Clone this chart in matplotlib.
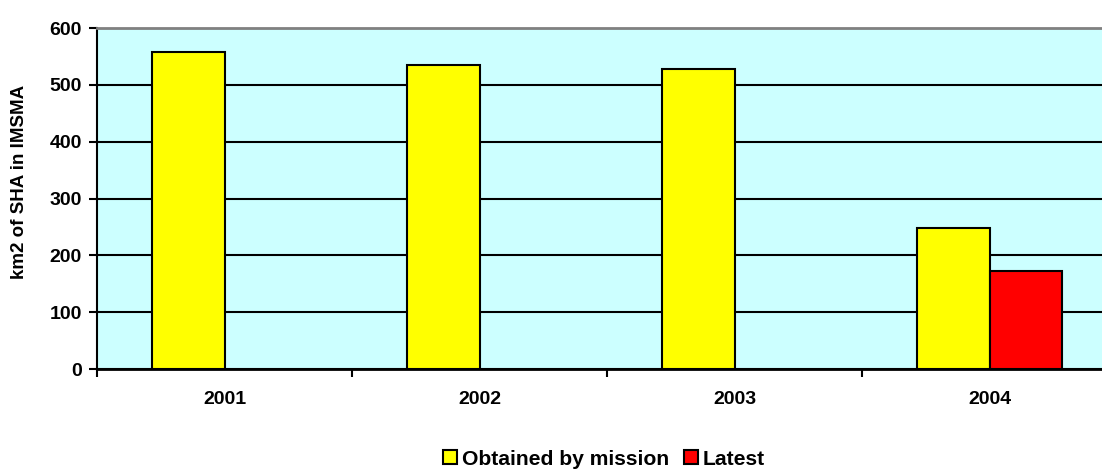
import numpy as np
import matplotlib.pyplot as plt

plt.rcParams['font.family'] = ['Liberation Sans', 'DejaVu Sans']
plt.rcParams['font.weight'] = 'bold'

years = ['2001', '2002', '2003', '2004']
obtained = [558, 535, 528, 248]
latest = [0, 0, 0, 173]

fig = plt.figure(figsize=(11.02, 4.69), dpi=100)
# plot area runs past the right edge of the picture, like the original
ax = fig.add_axes([97 / 1102, 1 - 369 / 469, 1020 / 1102, 341 / 469])
ax.set_facecolor('#CCFFFF')

x = np.arange(len(years))
w = 0.286
ax.bar(x - w / 2, obtained, w, color='#FFFF00', edgecolor='black', linewidth=1.5,
       label='Obtained by mission', zorder=3)
lat = np.array(latest, dtype=float)
lat[lat == 0] = np.nan
ax.bar(x + w / 2, lat, w, color='#FF0000', edgecolor='black', linewidth=1.5,
       label='Latest', zorder=3)

ax.set_xlim(-0.5, len(years) - 0.5)
ax.set_ylim(0, 600)
ax.set_yticks(range(0, 601, 100))
ax.yaxis.grid(True, color='black', linewidth=1.5, zorder=1)
ax.set_axisbelow(True)

ax.set_xticks(x)
ax.set_xticklabels(years, fontsize=14, fontweight='bold')
ax.set_xticks(np.arange(-0.5, len(years), 1), minor=True)
ax.tick_params(axis='x', which='major', length=0, pad=16)
ax.tick_params(axis='x', which='minor', length=6, width=1.5, direction='out')
ax.tick_params(axis='y', length=6, width=1.5, direction='out', labelsize=14, pad=5)
for lbl in ax.get_yticklabels():
    lbl.set_fontweight('bold')

ax.spines['left'].set_linewidth(1.5)
ax.spines['bottom'].set_linewidth(2)
ax.spines['top'].set_color('#808080')
ax.spines['top'].set_linewidth(2)
ax.spines['right'].set_visible(False)

ax.set_ylabel('km2 of SHA in IMSMA', fontsize=13.5, fontweight='bold')
ax.yaxis.set_label_coords(-0.0676, 0.548)

handles, labels = ax.get_legend_handles_labels()
fig.legend(handles, labels, loc='center', bbox_to_anchor=(604 / 1102, 1 - 459 / 469),
           ncol=2, frameon=False, handlelength=0.65, handleheight=0.65,
           handletextpad=0.25, columnspacing=0.7, borderpad=0,
           prop={'weight': 'bold', 'size': 15.2})

fig.savefig('out.png', dpi=100)
